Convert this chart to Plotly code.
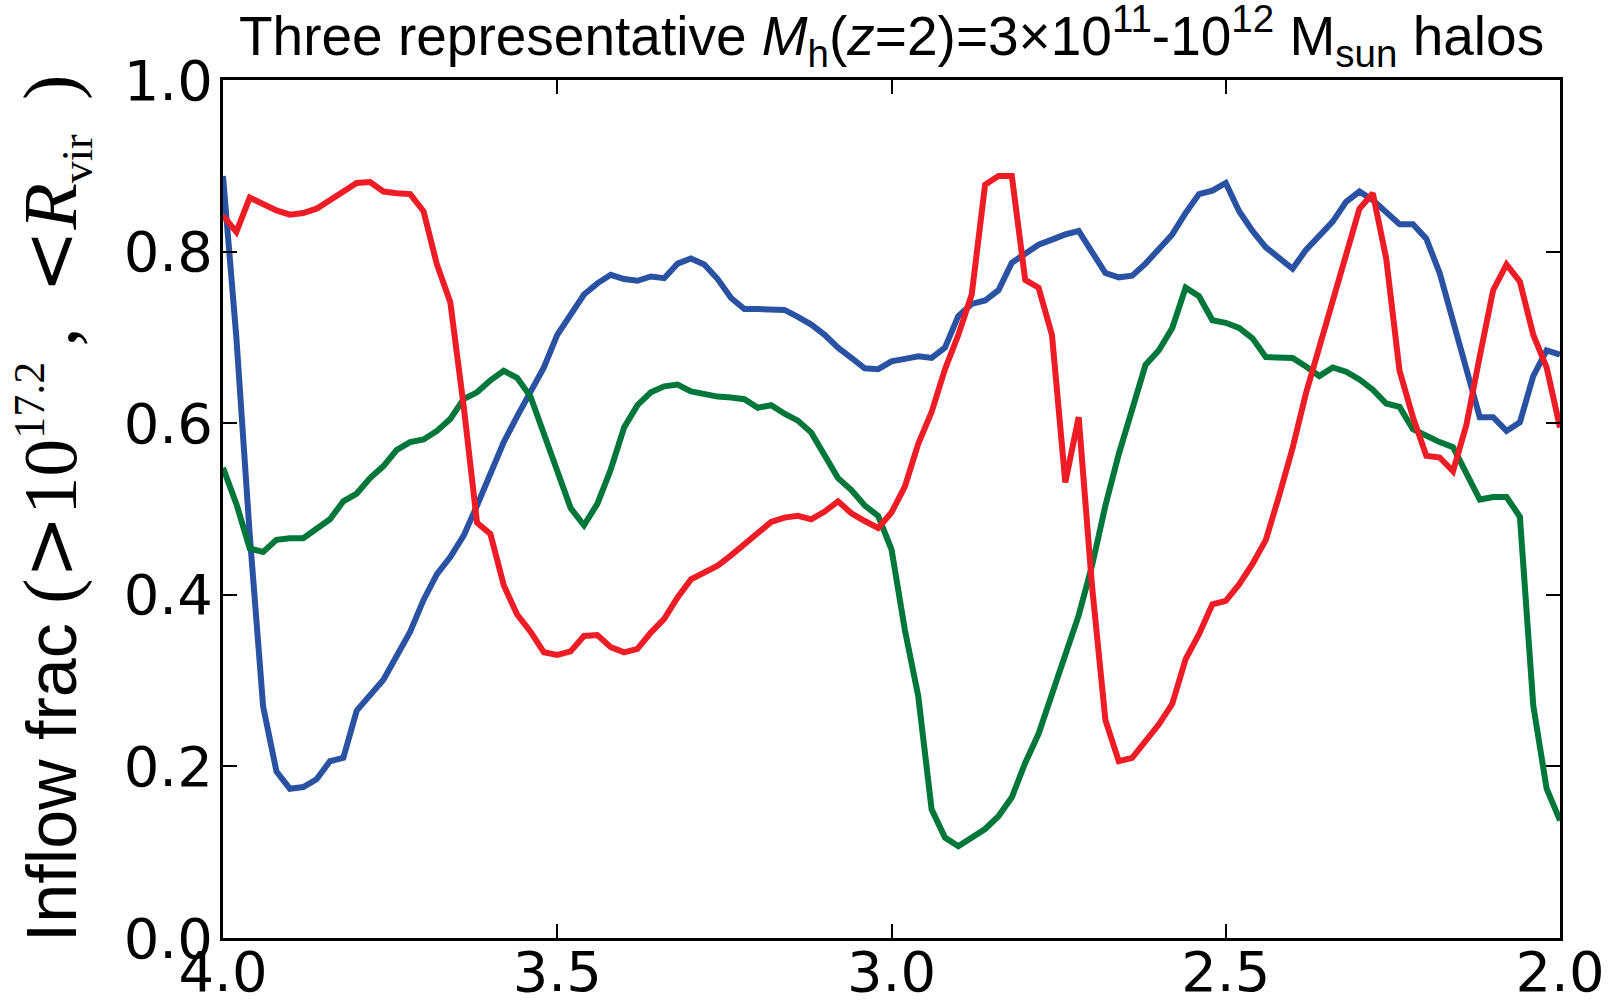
import numpy as np
import plotly.graph_objects as go

# redshift grid (sampled every 0.02 from z=4 down to z=2)
redshift = np.round(np.linspace(4.0, 2.0, 101), 2)

# inflow fraction of three halos
halo_blue = [
    0.888, 0.700, 0.470, 0.270, 0.194, 0.174, 0.176, 0.185, 0.206, 0.210,
    0.265, 0.282, 0.301, 0.329, 0.357, 0.394, 0.424, 0.444, 0.469, 0.504,
    0.541, 0.578, 0.608, 0.635, 0.665, 0.703, 0.726, 0.750, 0.763, 0.773,
    0.768, 0.766, 0.771, 0.769, 0.786, 0.792, 0.785, 0.768, 0.746, 0.733,
    0.733, 0.733, 0.732, 0.724, 0.715, 0.703, 0.688, 0.676, 0.664, 0.663,
    0.672, 0.675, 0.678, 0.676, 0.688, 0.725, 0.739, 0.743, 0.755, 0.787,
    0.798, 0.808, 0.814, 0.820, 0.824, 0.800, 0.775, 0.770, 0.772, 0.786,
    0.802, 0.820, 0.845, 0.867, 0.871, 0.880, 0.847, 0.824, 0.805, 0.792,
    0.780, 0.802, 0.818, 0.835, 0.858, 0.870, 0.860, 0.847, 0.832, 0.832,
    0.815, 0.775, 0.721, 0.665, 0.607, 0.607, 0.591, 0.601, 0.655, 0.685,
    0.680,
]

halo_green = [
    0.548, 0.506, 0.454, 0.450, 0.464, 0.466, 0.466, 0.476, 0.488, 0.509,
    0.518, 0.536, 0.550, 0.569, 0.578, 0.581, 0.591, 0.605, 0.628, 0.636,
    0.650, 0.661, 0.653, 0.631, 0.588, 0.546, 0.501, 0.481, 0.506, 0.546,
    0.595, 0.621, 0.636, 0.643, 0.645, 0.637, 0.634, 0.631, 0.630, 0.628,
    0.618, 0.621, 0.611, 0.603, 0.589, 0.562, 0.536, 0.522, 0.504, 0.492,
    0.453, 0.359, 0.282, 0.150, 0.117, 0.107, 0.117, 0.127, 0.142, 0.164,
    0.204, 0.238, 0.284, 0.331, 0.376, 0.434, 0.504, 0.564, 0.618, 0.668,
    0.685, 0.711, 0.758, 0.748, 0.720, 0.717, 0.711, 0.699, 0.677, 0.676,
    0.676, 0.666, 0.655, 0.665, 0.660, 0.651, 0.639, 0.623, 0.619, 0.593,
    0.585, 0.578, 0.572, 0.541, 0.511, 0.514, 0.514, 0.491, 0.271, 0.174,
    0.137,
]

halo_red = [
    0.842, 0.823, 0.863, 0.855, 0.848, 0.843, 0.845, 0.850, 0.860, 0.870,
    0.880, 0.881, 0.870, 0.868, 0.867, 0.847, 0.785, 0.741, 0.620, 0.484,
    0.471, 0.411, 0.377, 0.357, 0.333, 0.330, 0.334, 0.352, 0.353, 0.339,
    0.333, 0.337, 0.356, 0.372, 0.397, 0.418, 0.426, 0.434, 0.446, 0.459,
    0.473, 0.485, 0.490, 0.492, 0.488, 0.497, 0.509, 0.495, 0.486, 0.478,
    0.496, 0.526, 0.576, 0.613, 0.663, 0.703, 0.750, 0.878, 0.888, 0.888,
    0.767, 0.758, 0.703, 0.531, 0.607, 0.410, 0.254, 0.206, 0.210, 0.230,
    0.249, 0.273, 0.325, 0.354, 0.389, 0.393, 0.412, 0.436, 0.464, 0.516,
    0.571, 0.635, 0.688, 0.742, 0.798, 0.850, 0.868, 0.792, 0.661, 0.607,
    0.562, 0.560, 0.544, 0.598, 0.678, 0.755, 0.785, 0.765, 0.703, 0.665,
    0.595,
]

x_ticks = [4.0, 3.5, 3.0, 2.5, 2.0]
x_tick_labels = ["4.0", "3.5", "3.0", "2.5", "2.0"]
y_ticks = [0.0, 0.2, 0.4, 0.6, 0.8, 1.0]
y_tick_labels = ["0.0", "0.2", "0.4", "0.6", "0.8", "1.0"]

series = [
    ("halo 1", halo_blue, "#2A52A3"),
    ("halo 2", halo_green, "#00773A"),
    ("halo 3", halo_red, "#EE1C25"),
]

fig = go.Figure()
for name, values, color in series:
    fig.add_trace(go.Scatter(
        x=redshift, y=values, mode="lines", name=name,
        line=dict(color=color, width=6),
    ))

tick_font = dict(family="DejaVu Sans", size=56, color="black")
axis_common = dict(
    showgrid=False, zeroline=False, showline=True, linecolor="black",
    linewidth=3, mirror="ticks", ticks="inside", ticklen=14, tickwidth=2,
    tickcolor="black", tickfont=tick_font,
)

fig.update_layout(
    width=1619, height=1006,
    margin=dict(l=223, r=59, t=80, b=68, autoexpand=False),
    paper_bgcolor="white", plot_bgcolor="white",
    showlegend=False,
    xaxis=dict(range=[4.0, 2.0], tickvals=x_ticks, ticktext=x_tick_labels,
               ticklabelstandoff=-17, **axis_common),
    yaxis=dict(range=[0.0, 1.0], tickvals=y_ticks, ticktext=y_tick_labels,
               ticklabelstandoff=-4, **axis_common),
)

title_text = ("Three representative <i>M</i><sub>h</sub>(<i>z</i>=2)=3×10<sup>11</sup>"
              "-10<sup>12</sup> M<sub>sun</sub> halos")
fig.add_annotation(
    text=title_text, xref="paper", yref="paper", x=0.5, y=1.051,
    xanchor="center", yanchor="middle", showarrow=False,
    font=dict(family="Liberation Sans", size=55, color="black"),
)

# axis label: plain words followed by a math-style expression
thin = "\u2009"
rel = '<span style="font-family:DejaVu Serif">{}</span>'
small = '<span style="font-size:44px">{}</span>'
math = ('(' + rel.format('&gt;') + '10<sup>' + small.format('17.2') + '</sup>'
        + thin + ', ' + thin + rel.format('&lt;') + '<i>R</i><sub>'
        + small.format('vir') + '</sub> ' + thin + ')')
ylabel = ('Inflow frac <span style="font-family:Liberation Serif;font-size:76px">'
          + math + '</span>')
fig.add_annotation(
    text=ylabel, xref="paper", yref="paper", x=-0.127, y=0.5,
    xanchor="center", yanchor="middle", textangle=-90, showarrow=False,
    font=dict(family="Liberation Sans", size=70, color="black"),
)

fig.write_html("out.html")
